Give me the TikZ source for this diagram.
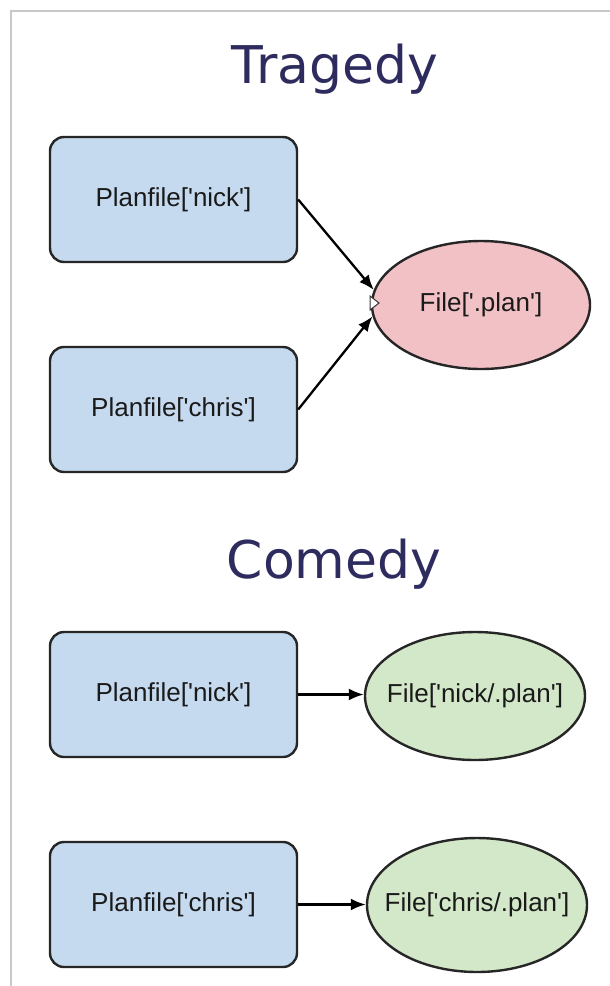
\documentclass[tikz,border=0pt]{standalone}
\usepackage{fontspec}
\usetikzlibrary{shapes.geometric,arrows.meta}
\newfontfamily\labelfont{Liberation Sans}
\newfontfamily\headfont{DejaVu Sans}
\definecolor{boxblue}{HTML}{C5D9EF}
\definecolor{filered}{HTML}{F2C1C5}
\definecolor{filegreen}{HTML}{D3E8C8}
\definecolor{headnavy}{HTML}{2E2C5E}
\definecolor{framegray}{HTML}{C8C8C8}
\definecolor{labelink}{HTML}{1A1A1A}
% zero-width label so the oval keeps its set size
\newcommand{\ovaltext}[1]{\makebox[0pt]{#1}}
\begin{document}
\begin{tikzpicture}[x=1pt,y=-1pt,
  planbox/.style={draw=black!85, line width=2.4pt, fill=boxblue, rounded corners=14pt,
    minimum width=247pt, minimum height=125pt, inner sep=0pt, text=labelink,
    font=\labelfont\fontsize{26}{30}\selectfont},
  fileoval/.style={ellipse, draw=black!85, line width=2.4pt, inner sep=0pt, text=labelink,
    font=\labelfont\fontsize{26}{30}\selectfont},
  heading/.style={text=headnavy, inner sep=0pt, anchor=base,
    font=\headfont\fontsize{52}{58}\selectfont},
  link/.style={draw=black, line width=2.3pt, -{Latex[length=15pt,width=12pt]}}]
  \useasboundingbox (0,0) rectangle (610,986);
  \fill[white] (0,0) rectangle (610,986);
  % page frame along the top and left
  \coordinate (fbl) at (11,986);
  \coordinate (ftl) at (11,11);
  \coordinate (ftr) at (610,11);
  \draw[framegray, line width=2pt] (fbl) -- (ftl) -- (ftr);

  % first case: both plan files map to the same file
  \node[heading] (trag) at (335,83) {Tragedy};
  \node[planbox] (n1) at (173.5,199.5) {Planfile['nick']};
  \node[planbox] (c1) at (173.5,409.5) {Planfile['chris']};
  \node[fileoval, fill=filered, minimum width=218pt, minimum height=128pt] (p1) at (481,305) {\ovaltext{File['.plan']}};
  \draw[link] (n1.east) -- (p1.172);
  \draw[link] (c1.east) -- (p1.186);
  \coordinate (nA) at (370,296);
  \coordinate (nB) at (370,310);
  \coordinate (nC) at (379,303);
  \draw[fill=white, draw=black!80, line width=1pt] (nA) -- (nC) -- (nB) -- cycle;

  % second case: each plan file maps to its own file
  \node[heading] (com) at (334,578) {Comedy};
  \node[planbox] (n2) at (173.5,694.5) {Planfile['nick']};
  \node[planbox] (c2) at (173.5,904.5) {Planfile['chris']};
  \node[fileoval, fill=filegreen, minimum width=220pt, minimum height=128pt] (p2) at (475,696) {\ovaltext{File['nick/.plan']}};
  \node[fileoval, fill=filegreen, minimum width=220pt, minimum height=134pt] (p3) at (477,905) {\ovaltext{File['chris/.plan']}};
  \draw[link] (n2.east) -- (p2.west |- n2.east);
  \draw[link] (c2.east) -- (p3.west |- c2.east);
\end{tikzpicture}
\end{document}
